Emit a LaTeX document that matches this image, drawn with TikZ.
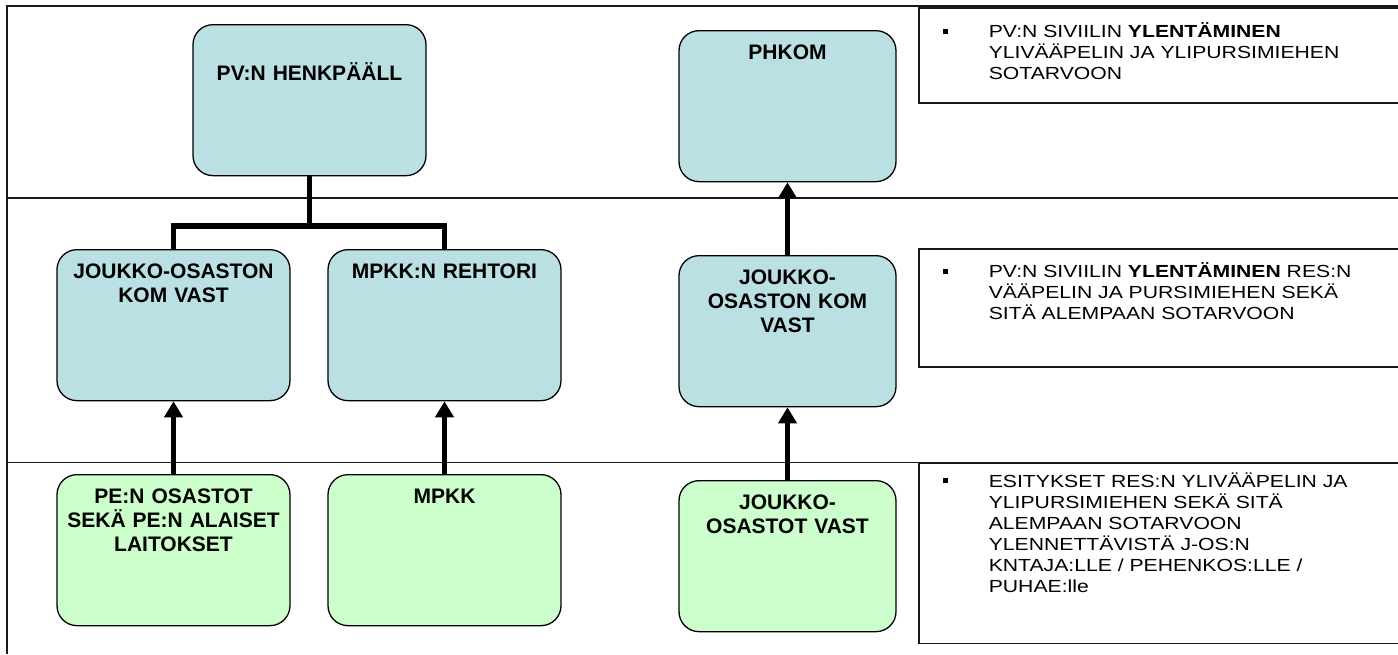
\documentclass[tikz,border=0pt]{standalone}
\usepackage{fontspec}
\usepackage{tikz}
\usetikzlibrary{arrows.meta}
\setmainfont{Liberation Sans}
\newfontfamily\notefont[FakeStretch=1.21]{Liberation Sans}
\definecolor{staffblue}{HTML}{BBE0E3}
\definecolor{unitgreen}{HTML}{CCFFCC}

\tikzset{
  frame/.style={line width=1.6pt, draw=black!90},
  unitbox/.style={draw=black, line width=1.3pt, rounded corners=20pt, inner sep=0pt, align=center,
    font=\bfseries\fontsize{21}{24}\selectfont, text height=29pt, text depth=122pt, anchor=north},
  bluebox/.style={unitbox, fill=staffblue},
  greenbox/.style={unitbox, fill=unitgreen},
  notebox/.style={draw=black!90, line width=1.6pt, fill=white, inner sep=0pt, align=left, anchor=north west,
    text width=490pt, font=\notefont\fontsize{17.5}{21}\selectfont},
  tree/.style={line width=5.5pt},
  uparrow/.style={line width=5.5pt, -{Triangle[length=16pt,width=18pt]}}
}
\newcommand{\notemark}{\hspace*{24pt}\makebox[46pt][l]{\rule[4pt]{5pt}{5pt}}}
\newcommand{\noteindent}{\hspace*{70pt}}

\begin{document}
\begin{tikzpicture}[x=1pt, y=1pt, yscale=-1, xscale=1]
\useasboundingbox (0,0) rectangle (1398,654);
%Frame
\draw[frame] (7,654) -- (7,6) -- (1398,6);
\draw[frame] (7,198) -- (1398,198);
\draw[frame] (7,462.5) -- (1398,462.5);
%Notes
\node[notebox, text height=30pt, text depth=65pt] (note1) at (918,7)
  {\notemark PV:N SIVIILIN \textbf{YLENTÄMINEN}\\
   \noteindent YLIVÄÄPELIN JA YLIPURSIMIEHEN\\
   \noteindent SOTARVOON};
\node[notebox, text height=29pt, text depth=89pt] (note2) at (918,248)
  {\notemark PV:N SIVIILIN \textbf{YLENTÄMINEN} RES:N\\
   \noteindent VÄÄPELIN JA PURSIMIEHEN SEKÄ\\
   \noteindent SITÄ ALEMPAAN SOTARVOON};
\node[notebox, text height=24pt, text depth=156pt] (note3) at (918,462.5)
  {\notemark ESITYKSET RES:N YLIVÄÄPELIN JA\\
   \noteindent YLIPURSIMIEHEN SEKÄ SITÄ\\
   \noteindent ALEMPAAN SOTARVOON\\
   \noteindent YLENNETTÄVISTÄ J-OS:N\\
   \noteindent KNTAJA:LLE / PEHENKOS:LLE /\\
   \noteindent PUHAE:lle};
%Boxes
\node[bluebox, text width=233pt, text height=55.5pt, text depth=95.5pt] (henk) at (309.5,24) {PV:N HENKPÄÄLL};
\node[bluebox, text width=217pt] (phkom) at (787.5,30) {PHKOM};
\node[bluebox, text width=233pt] (josleft) at (173.5,249) {JOUKKO-OSASTON\\KOM VAST};
\node[bluebox, text width=233pt] (rehtori) at (444.5,249) {MPKK:N REHTORI};
\node[bluebox, text width=217pt] (josright) at (787.5,255) {JOUKKO-\\OSASTON KOM\\VAST};
\node[greenbox, text width=233pt] (pe) at (173.5,474) {PE:N OSASTOT\\SEKÄ PE:N ALAISET\\LAITOKSET};
\node[greenbox, text width=233pt] (mpkk) at (444.5,474) {MPKK};
\node[greenbox, text width=217pt] (joukot) at (787.5,480) {JOUKKO-\\OSASTOT VAST};
%Connectors
\coordinate (fork) at (309.5,226);
\draw[tree] (henk.south) -- (fork);
\draw[tree] (josleft.north) |- (fork) -| (rehtori.north);
\draw[uparrow] (pe.north) -- (josleft.south);
\draw[uparrow] (mpkk.north) -- (rehtori.south);
\draw[uparrow] (joukot.north) -- (josright.south);
\draw[uparrow] (josright.north) -- (phkom.south);
\end{tikzpicture}
\end{document}
